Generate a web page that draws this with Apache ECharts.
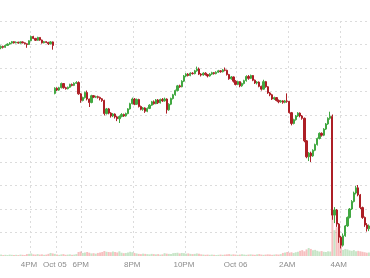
<!DOCTYPE html>
<html><head><meta charset="utf-8">
<script src="https://cdn.jsdelivr.net/npm/echarts@6/dist/echarts.min.js"></script>
<style>html,body{margin:0;padding:0;background:#fff}#c{width:370px;height:278px}</style>
</head><body><div id="c"></div>
<script>
// tick labels and the category index where each one sits (5-minute candles)
const tickLabels = ['4PM','Oct 05','6PM','8PM','10PM','Oct 06','2AM','4AM'];
const tickIndex  = [13, 25, 37, 61, 85, 109, 133, 157];

// [open, close, low, high]
const candles = [
[88.6,89.2,88.0,89.6],[89.2,88.8,88.3,89.5],[88.8,89.6,88.6,90.0],[89.6,90.2,89.4,90.5],[90.2,90.6,89.9,91.0],
[90.6,91.2,90.3,91.5],[91.2,90.7,90.4,91.4],[90.7,91.0,90.5,91.3],[91.0,90.6,90.3,91.2],[90.6,91.1,90.4,91.3],
[91.1,90.7,90.5,91.3],[90.7,90.3,90.0,90.9],[90.3,90.0,88.6,90.5],[90.0,91.6,89.8,91.8],[91.6,93.4,91.4,93.8],
[93.4,92.6,92.3,93.7],[92.6,91.8,91.5,92.8],[91.8,93.0,91.6,93.3],[93.0,91.9,91.6,93.1],[91.9,90.7,90.4,92.1],
[90.7,91.2,90.5,91.5],[91.2,90.9,90.6,91.4],[90.9,90.3,89.8,91.1],[90.3,91.1,90.1,91.4],[91.1,89.6,87.8,91.3],
[69.2,71.4,68.8,71.8],[71.4,70.6,70.2,71.8],[70.6,71.6,70.3,72.0],[71.6,73.4,71.3,73.8],[73.4,71.6,71.2,73.6],
[71.6,71.2,70.8,72.0],[71.2,71.8,70.9,72.1],[71.8,73.0,71.5,73.3],[73.0,72.6,72.2,73.4],[72.6,73.5,72.3,73.9],
[73.5,73.8,73.2,74.4],[73.8,69.0,68.6,74.3],[69.0,66.2,65.2,69.3],[66.2,67.4,65.8,67.8],[67.4,69.6,67.0,70.0],
[69.6,66.8,66.2,70.4],[66.8,65.3,63.4,67.0],[65.3,68.2,65.0,68.6],[68.2,67.6,67.2,68.5],[67.6,67.8,67.2,68.2],
[67.8,67.5,67.0,68.2],[67.5,66.9,66.2,67.8],[66.9,66.2,65.6,67.2],[66.2,60.6,59.8,66.5],[60.6,62.6,60.2,63.0],
[62.6,60.8,60.3,63.0],[60.8,59.6,58.9,61.2],[59.6,60.4,59.1,60.8],[60.4,59.2,58.5,60.7],[59.2,58.4,57.4,59.6],
[58.4,59.4,56.6,59.8],[59.4,60.2,59.0,60.8],[60.2,59.6,59.2,60.6],[59.6,60.6,59.3,61.0],[60.6,62.6,60.3,62.9],
[62.6,64.8,62.3,65.2],[64.8,66.8,64.5,67.4],[66.8,64.6,64.2,67.2],[64.6,66.6,64.3,67.0],[66.6,63.6,63.2,66.9],
[63.6,62.4,62.0,64.0],[62.4,63.0,61.8,63.4],[63.0,61.6,60.9,63.3],[61.6,62.8,61.2,63.2],[62.8,64.2,62.5,64.6],
[64.2,65.6,63.9,66.0],[65.6,64.8,64.4,66.2],[64.8,66.4,64.6,66.8],[66.4,65.2,64.7,66.8],[65.2,66.6,64.9,67.0],
[66.6,66.0,65.6,67.2],[66.0,66.8,65.7,67.4],[66.8,62.2,60.6,67.1],[62.2,64.6,61.8,65.0],[64.6,67.0,64.2,67.4],
[67.0,68.6,66.6,69.0],[68.6,70.4,68.2,70.8],[70.4,72.4,70.0,72.8],[72.4,72.0,71.6,72.9],[72.0,74.4,71.8,74.8],
[74.4,76.6,74.0,77.0],[76.6,77.4,76.2,77.8],[77.4,76.8,76.4,77.8],[76.8,77.8,76.5,78.2],[77.8,77.6,77.2,78.2],
[77.6,78.8,77.3,79.2],[78.8,79.6,78.4,80.6],[79.6,77.4,77.0,80.2],[77.4,77.0,76.4,77.8],[77.0,77.8,76.7,78.2],
[77.8,77.2,76.8,78.2],[77.2,76.6,76.0,77.5],[76.6,77.4,76.3,77.8],[77.4,78.0,77.0,78.4],[78.0,77.6,77.2,78.3],
[77.6,78.2,77.3,78.6],[78.2,78.8,77.9,79.2],[78.8,78.4,78.0,79.1],[78.4,79.2,78.1,79.6],[79.2,79.0,78.6,80.2],
[79.0,77.2,76.8,79.3],[77.2,75.4,75.0,77.5],[75.4,76.2,75.0,76.6],[76.2,74.4,73.8,76.4],[74.4,73.0,72.6,74.8],
[73.0,74.2,72.7,74.6],[74.2,72.4,71.8,74.4],[72.4,73.4,72.0,73.8],[73.4,74.6,73.0,75.0],[74.6,76.4,74.2,76.9],
[76.4,75.6,75.0,77.0],[75.6,76.8,75.3,77.2],[76.8,74.8,74.4,77.0],[74.8,73.6,73.2,75.1],[73.6,74.0,73.0,74.4],
[74.0,72.2,71.8,74.3],[72.2,71.0,70.4,72.5],[71.0,74.2,70.8,75.0],[74.2,72.0,71.6,74.5],[72.0,69.4,69.0,72.3],
[69.4,68.6,68.0,69.8],[68.6,66.8,66.4,69.0],[66.8,67.4,66.4,67.8],[67.4,66.2,65.8,67.6],[66.2,65.6,65.0,66.6],
[65.6,66.0,65.2,66.4],[66.0,65.4,64.8,66.3],[65.4,66.0,65.0,66.4],[66.0,65.8,65.2,69.2],[65.8,61.0,60.6,66.0],
[61.0,56.4,55.6,61.3],[56.4,58.0,56.0,58.4],[58.0,59.6,57.6,60.0],[59.6,60.8,59.2,61.2],[60.8,59.6,59.0,61.1],
[59.6,58.6,58.0,60.0],[58.6,49.0,48.4,58.9],[49.0,42.2,41.6,49.3],[42.2,43.8,40.4,44.2],[43.8,42.6,40.0,44.4],
[42.6,45.0,42.2,45.4],[45.0,47.4,44.6,47.8],[47.4,50.0,47.0,50.4],[50.0,52.2,49.6,52.6],[52.2,51.4,50.8,52.6],
[51.4,54.0,51.0,54.4],[54.0,56.2,53.6,56.6],[56.2,58.6,55.8,59.0],[58.6,59.4,58.0,61.4],[59.4,17.4,15.4,60.2],
[17.4,19.6,14.0,20.8],[19.6,13.6,12.4,20.0],[13.6,8.0,5.6,14.0],[8.0,4.6,3.2,8.6],[4.6,8.6,4.0,9.6],
[8.6,12.8,8.2,13.2],[12.8,16.4,12.4,16.8],[16.4,20.0,16.0,20.4],[20.0,23.2,19.6,23.8],[23.2,26.8,22.8,27.4],
[26.8,29.0,26.2,29.8],[29.0,26.0,25.4,30.2],[26.0,20.6,20.0,26.4],[20.6,16.4,15.8,21.0],[16.4,13.2,12.4,16.8],
[13.2,11.6,10.4,14.0],[11.6,12.8,10.6,13.4]
];

const volume = [
6,4,5,4,6,5,4,5,4,6,5,4,8,9,11,7,6,8,6,7,5,6,9,13,11,
9,6,5,7,8,5,6,7,5,6,8,17,
19,13,15,17,14,11,12,10,13,15,17,
21,18,17,16,19,17,15,20,14,12,13,15,18,16,13,
11,9,8,10,9,8,7,9,8,7,8,6,7,12,10,9,8,
12,13,14,11,13,12,10,11,9,8,9,11,10,
7,6,5,6,5,6,5,4,5,6,5,6,7,8,6,7,6,5,6,7,6,5,6,7,6,5,7,8,6,5,6,7,6,5,6,7,6,8,
13,15,17,14,16,13,
16,18,22,25,20,28,34,30,24,26,22,19,21,18,17,20,19,
179,
110,123,95,70,
26,30,28,24,22,25,20,
22,20,18,16,14,15
];

const categories = candles.map((c, i) => {
  const k = tickIndex.indexOf(i);
  return k >= 0 ? tickLabels[k] : 'c' + i;
});

const UP = '#42a842', DOWN = '#ad1f26';
const chart = echarts.init(document.getElementById('c'));
chart.setOption({
  animation: false,
  backgroundColor: '#fff',
  grid: { left: 0, right: 0, top: 21, bottom: 22 },
  xAxis: {
    type: 'category', data: categories, boundaryGap: true,
    axisLine: { show: false }, axisTick: { show: false },
    axisLabel: {
      interval: (i) => tickIndex.includes(i),
      formatter: (v) => (v.charAt(0) === 'c' && !isNaN(+v.slice(1))) ? '' : v,
      color: '#8c8c8c', fontSize: 8, fontFamily: 'Liberation Sans, Arial, sans-serif', margin: 5
    },
    splitLine: {
      show: true,
      interval: (i) => tickIndex.includes(i - 1),
      lineStyle: { color: '#dcdcdc', type: [2, 3], width: 1 }
    }
  },
  yAxis: [
    { type: 'value', min: 0, max: 100, interval: 10, scale: false,
      axisLine: { show: false }, axisTick: { show: false }, axisLabel: { show: false },
      splitLine: { show: true, showMinLine: false, lineStyle: { color: '#dcdcdc', type: [2, 3], width: 1 } } },
    { type: 'value', min: 0, max: 1000, show: false, splitLine: { show: false } }
  ],
  series: [
    { type: 'bar', yAxisIndex: 1, data: volume, barWidth: '90%', z: 1,
      itemStyle: { color: (p) => candles[p.dataIndex][1] >= candles[p.dataIndex][0] ? 'rgba(80,175,80,0.32)' : 'rgba(235,90,90,0.38)' } },
    { type: 'candlestick', data: candles, barWidth: '80%', z: 3,
      itemStyle: { color: UP, color0: DOWN, borderColor: UP, borderColor0: DOWN, borderWidth: 1 } }
  ]
});
</script></body></html>
